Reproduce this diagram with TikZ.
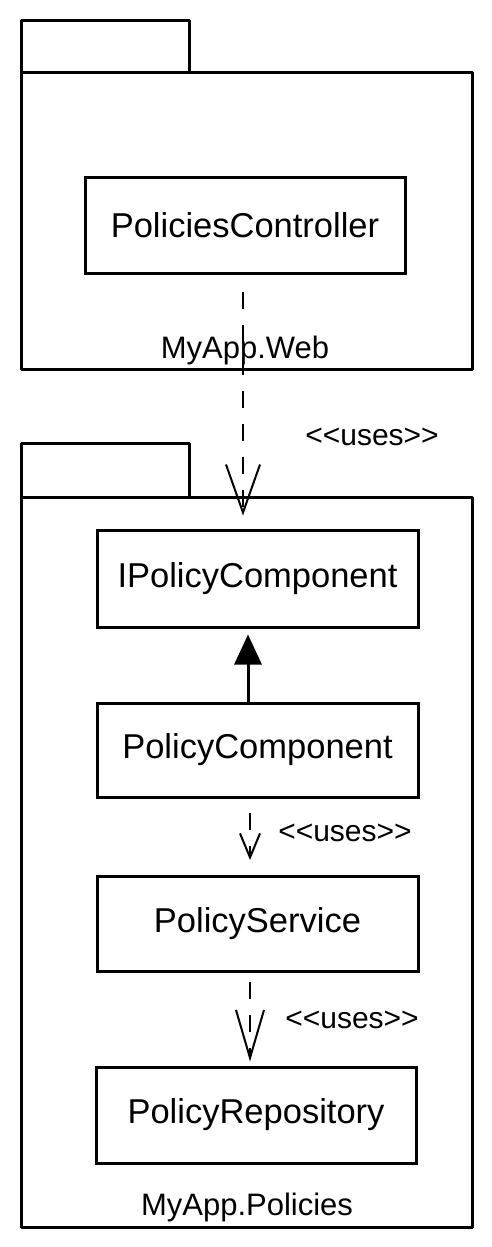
\documentclass[tikz,border=0pt]{standalone}
\usepackage{fontspec}
\setmainfont{Liberation Sans}
\usetikzlibrary{arrows.meta,calc}
\newcommand{\usesstereo}{<\kern0pt<uses>\kern0pt>}
\begin{document}
\begin{tikzpicture}[x=1pt,y=-1pt,
  pkg/.style={draw,line width=3pt,line join=round,inner sep=0pt,anchor=north west},
  cls/.style={draw,line width=3pt,inner sep=0pt,font=\fontsize{34.5}{40}\selectfont},
  lbl/.style={font=\fontsize{31}{36}\selectfont,inner sep=0pt},
  ulbl/.style={font=\fontsize{30}{36}\selectfont,inner sep=0pt},
  dep/.style={line width=2pt,dash pattern=on 17pt off 16pt},
  gen/.style={line width=3pt,-{Triangle[length=30pt,width=27pt]}}]
\useasboundingbox (0,0) rectangle (491,1247);
% package MyApp.Web
\node[pkg,minimum width=168pt,minimum height=52pt] (tabA) at (20,19) {};
\node[pkg,minimum width=451pt,minimum height=297pt] (pkgA) at (20,71) {};
\node[lbl] (nameA) at (245,350) {MyApp.Web};
\node[cls,minimum width=320pt,minimum height=96pt] (ctrl) at (245,225) {PoliciesController};
% package MyApp.Policies
\node[pkg,minimum width=168pt,minimum height=54pt] (tabB) at (20,442) {};
\node[pkg,minimum width=451pt,minimum height=730pt] (pkgB) at (20,496) {};
\node[lbl] (nameB) at (247,1207) {MyApp.Policies};
\node[cls,minimum width=321pt,minimum height=97pt] (ipc) at (257.5,578.5) {IPolicyComponent};
\node[cls,minimum width=321pt,minimum height=94pt] (pcomp) at (257.5,750) {PolicyComponent};
\node[cls,minimum width=321pt,minimum height=95pt] (psvc) at (257.5,924) {PolicyService};
\node[cls,minimum width=320pt,minimum height=96pt] (prepo) at (256,1115) {PolicyRepository};
% connectors
\draw[dep,shorten <=17pt,shorten >=13pt,-{Straight Barb[length=48pt,width=34pt,line width=2pt]}]
  ([xshift=-2pt]ctrl.south) -- ([xshift=-2pt]ctrl.south |- ipc.north);
\node[ulbl] (u1) at (372,437) {\usesstereo};
\draw[gen,shorten <=0pt,shorten >=6pt] ([xshift=-9.5pt]pcomp.north) -- ([xshift=-9.5pt]ipc.south);
\draw[dep,shorten <=14pt,shorten >=15pt,-{Straight Barb[length=24pt,width=20pt,line width=2pt]}]
  ([xshift=-7.5pt]pcomp.south) -- ([xshift=-7.5pt]psvc.north);
\node[ulbl] (u2) at (345,833) {\usesstereo};
\draw[dep,shorten <=9pt,shorten >=4pt,-{Straight Barb[length=48pt,width=28pt,line width=2pt]}]
  ([xshift=-7.5pt]psvc.south) -- ([xshift=-6pt]prepo.north);
\node[ulbl] (u3) at (352,1020) {\usesstereo};
\end{tikzpicture}
\end{document}
